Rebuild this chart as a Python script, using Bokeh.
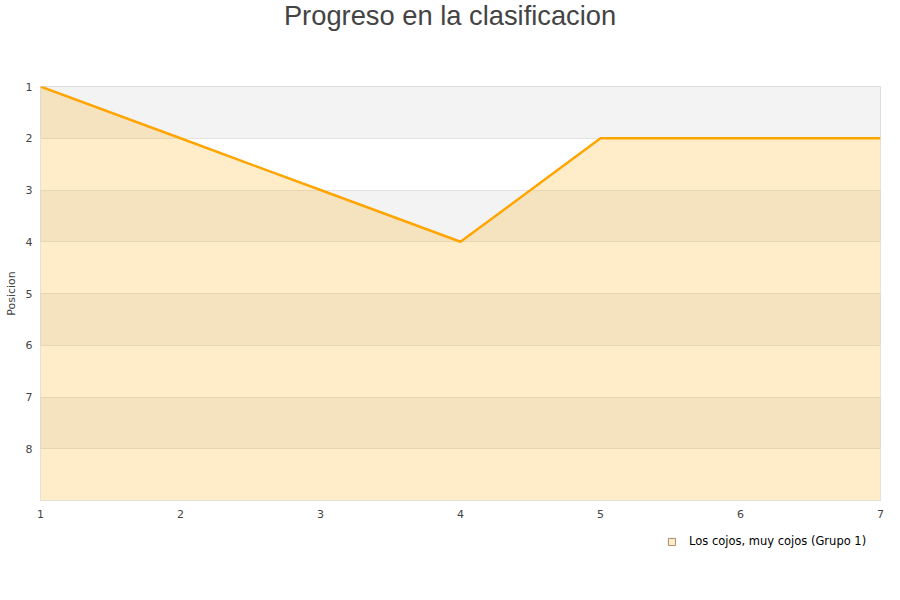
from bokeh.plotting import figure
from bokeh.layouts import column
from bokeh.models import Range1d, FixedTicker, Legend, LegendItem, ColumnDataSource, Label
from bokeh.embed import file_html
from bokeh.resources import INLINE

jornadas = [1, 2, 3, 4, 5, 6, 7]
posiciones = [1, 2, 3, 4, 2, 2, 2]
y_ticks = [1, 2, 3, 4, 5, 6, 7, 8]
x_ticks = [1, 2, 3, 4, 5, 6, 7]
equipos = 9
serie = "Los cojos, muy cojos (Grupo 1)"
titulo = "Progreso en la clasificacion"

W = 884

# title strip
t = figure(width=W, height=40, output_backend="svg", toolbar_location=None,
           x_range=Range1d(0, W), y_range=Range1d(0, 40),
           min_border_left=0, min_border_right=0, min_border_top=0, min_border_bottom=0)
t.axis.visible = False
t.grid.visible = False
t.outline_line_color = None
t.add_layout(Label(x=431, y=25, text=titulo, text_align="center", text_baseline="alphabetic",
                   text_font="Liberation Sans", text_font_size="27.3px", text_color="#444444"))

p = figure(width=W, height=480, output_backend="svg", toolbar_location=None,
           x_range=Range1d(1, 7), y_range=Range1d(equipos, 1),
           min_border_left=40, min_border_right=4, min_border_top=46, min_border_bottom=20)

p.outline_line_color = "#dddddd"
p.background_fill_color = "#f3f3f3"
p.xgrid.visible = False
p.ygrid.ticker = FixedTicker(ticks=y_ticks + [equipos])
p.ygrid.grid_line_color = "#e2e2e2"
p.ygrid.band_fill_color = "#ffffff"
p.ygrid.band_fill_alpha = 1.0

for ax in (p.xaxis[0], p.yaxis[0]):
    ax.axis_line_color = None
    ax.major_tick_line_color = None
    ax.minor_tick_line_color = None
    ax.major_label_text_font = "DejaVu Sans"
    ax.major_label_text_font_size = "11px"
    ax.major_label_text_color = "#444444"

p.xaxis.ticker = FixedTicker(ticks=x_ticks)
p.yaxis.ticker = FixedTicker(ticks=y_ticks)
p.xaxis.major_label_standoff = 3
p.yaxis.major_label_standoff = 2
p.yaxis.axis_label = "Posicion"
p.yaxis.axis_label_text_font = "DejaVu Sans"
p.yaxis.axis_label_text_font_size = "11px"
p.yaxis.axis_label_text_font_style = "normal"
p.yaxis.axis_label_text_color = "#444444"
p.yaxis.axis_label_standoff = 5

src = ColumnDataSource(dict(x=jornadas, y=posiciones))
p.varea(x="x", y1="y", y2=equipos, source=src, fill_color="#ffa500", fill_alpha=0.21)
p.line(x="x", y="y", source=src, line_color="#ffa500", line_width=2.4)

# legend strip below the chart (proxy glyph lies outside this strip's ranges)
q = figure(width=W, height=64, output_backend="svg", toolbar_location=None,
           x_range=Range1d(-2, -1), y_range=Range1d(-2, -1),
           min_border_left=0, min_border_right=0, min_border_top=0, min_border_bottom=0)
q.axis.visible = False
q.grid.visible = False
q.outline_line_color = None

swatch = q.quad(left="x", right="x", top="y", bottom="y", source=src,
                fill_color="#ffecc9", line_color="#9f8c6c", line_width=1)

legend = Legend(items=[LegendItem(label=serie, renderers=[swatch])],
                location=(627, 36), orientation="horizontal",
                glyph_width=9, glyph_height=9, label_height=12, label_standoff=13,
                label_text_font="DejaVu Sans", label_text_font_size="11.5px",
                label_text_color="#000000", border_line_color=None,
                background_fill_alpha=0, padding=4, margin=0, spacing=0)
q.add_layout(legend)

layout = column(t, p, q, spacing=0)
open("out.html", "w").write(file_html(layout, INLINE))
